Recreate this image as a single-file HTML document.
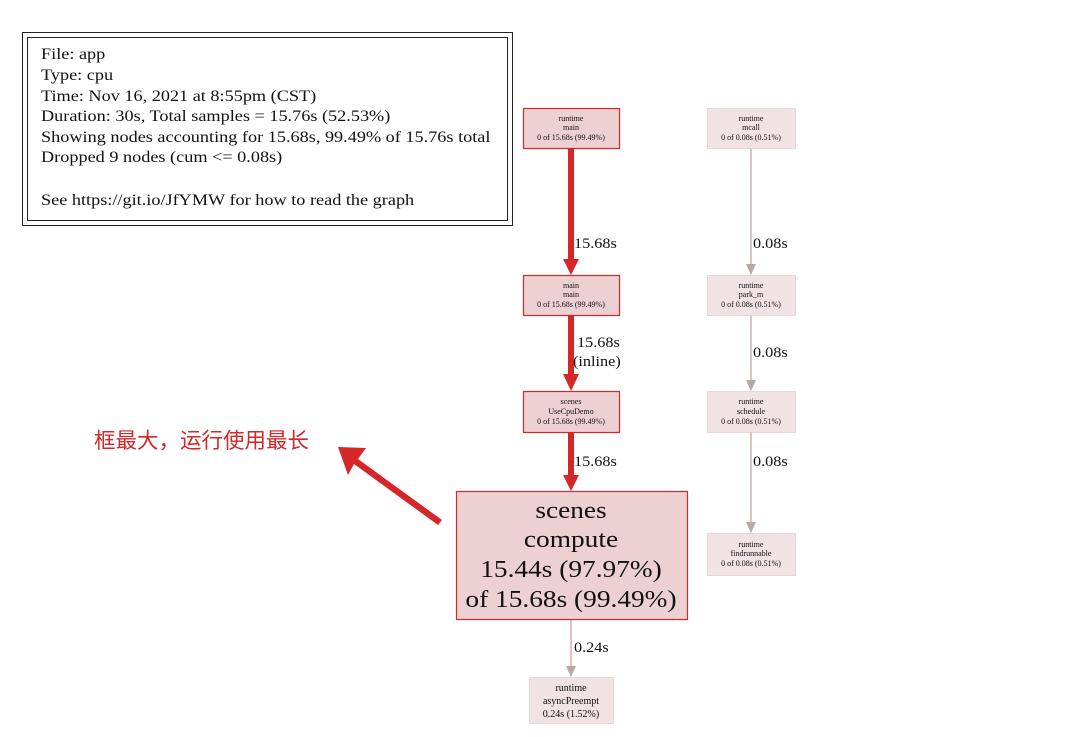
<!DOCTYPE html>
<html><head><meta charset="utf-8"><style>
body{margin:0;background:#fff;width:1080px;height:732px;overflow:hidden}
text{font-family:"Liberation Serif",serif;fill:#111}
</style></head><body>
<svg width="1080" height="732" xmlns="http://www.w3.org/2000/svg">
<rect x="22.5" y="32.5" width="490" height="193" fill="#fff" stroke="#222" stroke-width="1"/>
<rect x="27.5" y="37.5" width="480" height="183" fill="none" stroke="#222" stroke-width="1"/>
<g font-size="16" transform="translate(41,0) scale(1.14,1)">
<text x="0" y="59">File: app</text>
<text x="0" y="80">Type: cpu</text>
<text x="0" y="101">Time: Nov 16, 2021 at 8:55pm (CST)</text>
<text x="0" y="121">Duration: 30s, Total samples = 15.76s (52.53%)</text>
<text x="0" y="142">Showing nodes accounting for 15.68s, 99.49% of 15.76s total</text>
<text x="0" y="162">Dropped 9 nodes (cum &lt;= 0.08s)</text>
<text x="0" y="205">See https://git.io/JfYMW for how to read the graph</text>
</g>
<g fill="#d62728" stroke="none">
<rect x="568" y="148" width="6" height="112"/><polygon points="563,259 579,259 571,275"/>
<rect x="568" y="315" width="6" height="60"/><polygon points="563,374 579,374 571,391"/>
<rect x="568" y="432" width="6" height="44"/><polygon points="563,475 579,475 571,491"/>
</g>
<g stroke="#d0b0b0" stroke-width="1.5">
<line x1="571" y1="619" x2="571" y2="667"/>
<line x1="751" y1="148" x2="751" y2="266"/>
<line x1="751" y1="315" x2="751" y2="382"/>
<line x1="751" y1="432" x2="751" y2="524"/>
</g>
<g fill="#b8a8a8">
<polygon points="566,666 576,666 571,677"/>
<polygon points="746,264 756,264 751,275"/>
<polygon points="746,380 756,380 751,391"/>
<polygon points="746,522 756,522 751,533"/>
</g>
<g font-size="14.5">
<text transform="translate(574,248) scale(1.12,1)">15.68s</text>
<text transform="translate(577,347) scale(1.12,1)">15.68s</text>
<text transform="translate(573,366) scale(1.12,1)">(inline)</text>
<text transform="translate(574,466) scale(1.12,1)">15.68s</text>
<text transform="translate(574,652) scale(1.12,1)">0.24s</text>
<text transform="translate(753,248) scale(1.12,1)">0.08s</text>
<text transform="translate(753,357) scale(1.12,1)">0.08s</text>
<text transform="translate(753,466) scale(1.12,1)">0.08s</text>
</g>
<g fill="#ecd0d2" stroke="#d62728" stroke-width="1.2">
<rect x="523.5" y="108.5" width="96" height="40"/>
<rect x="523.5" y="275.5" width="96" height="40"/>
<rect x="523.5" y="391.5" width="96" height="41"/>
<rect x="456.5" y="491.5" width="231" height="128"/>
</g>
<g fill="#f1e2e3" stroke="#dcb8ba" stroke-width="1" stroke-dasharray="1,1">
<rect x="707.5" y="108.5" width="88" height="40"/>
<rect x="707.5" y="275.5" width="88" height="40"/>
<rect x="707.5" y="391.5" width="88" height="41"/>
<rect x="707.5" y="533.5" width="88" height="42"/>
<rect x="529.5" y="677.5" width="84" height="46"/>
</g>
<g font-size="8" text-anchor="middle">
<text x="571" y="121">runtime</text><text x="571" y="130">main</text><text x="571" y="140">0 of 15.68s (99.49%)</text>
<text x="571" y="288">main</text><text x="571" y="297">main</text><text x="571" y="307">0 of 15.68s (99.49%)</text>
<text x="571" y="404">scenes</text><text x="571" y="414">UseCpuDemo</text><text x="571" y="424">0 of 15.68s (99.49%)</text>
<text x="751" y="121">runtime</text><text x="751" y="130">mcall</text><text x="751" y="140">0 of 0.08s (0.51%)</text>
<text x="751" y="288">runtime</text><text x="751" y="297">park_m</text><text x="751" y="307">0 of 0.08s (0.51%)</text>
<text x="751" y="404">runtime</text><text x="751" y="414">schedule</text><text x="751" y="424">0 of 0.08s (0.51%)</text>
<text x="751" y="547">runtime</text><text x="751" y="556">findrunnable</text><text x="751" y="566">0 of 0.08s (0.51%)</text>
</g>
<g font-size="10" text-anchor="middle">
<text x="571" y="691">runtime</text><text x="571" y="704">asyncPreempt</text><text x="571" y="717">0.24s (1.52%)</text>
</g>
<g font-size="24" text-anchor="middle" transform="translate(571,0) scale(1.14,1)">
<text x="0" y="518">scenes</text>
<text x="0" y="547">compute</text>
<text x="0" y="577">15.44s (97.97%)</text>
<text x="0" y="607">of 15.68s (99.49%)</text>
</g>
<polygon points="338,447 366,448 358,459 442,520 438,525 354,464 348,475" fill="#d62728"/>
<text x="94" y="448" font-size="21.5" style="font-family:'Liberation Sans','Noto Sans CJK SC',sans-serif;fill:#d62728">框最大，运行使用最长</text>
</svg>
</body></html>
